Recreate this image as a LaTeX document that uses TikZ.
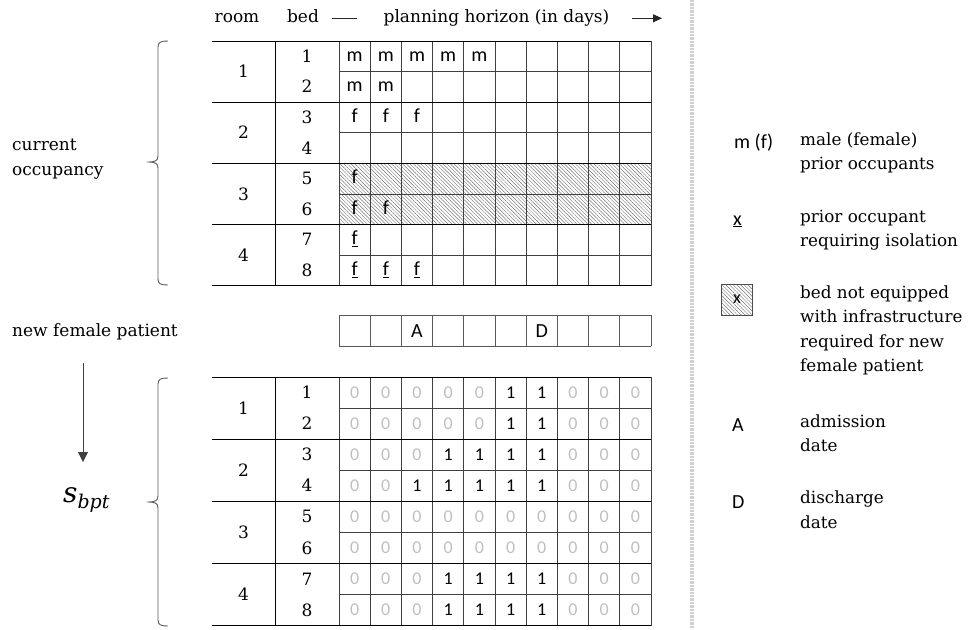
\documentclass[tikz,border=0pt]{standalone}
\usepackage{fontspec}
\setmainfont{DejaVu Serif}
\newfontfamily\cellfont{Carlito}
\usetikzlibrary{arrows.meta,patterns.meta}
\begin{document}
\begin{tikzpicture}[x=1pt,y=-1pt,
  serif/.style={font=\fontsize{17}{25}\selectfont, inner sep=0pt},
  legend/.style={font=\fontsize{16.8}{24.5}\selectfont, inner sep=0pt, anchor=west, align=left},
  sans/.style={font=\cellfont\fontsize{20}{24}\selectfont, inner sep=0pt, anchor=base},
  digit/.style={font=\cellfont\fontsize{18}{22}\selectfont, inner sep=0pt, anchor=base},
  v0/.style={text=black!25},
  v1/.style={text=black},
  dayline/.style={draw=black!75, line width=0.8pt},
  roomline/.style={draw=black, line width=0.9pt},
  brace/.style={draw=black!65, line width=0.9pt},
  hatch/.style={pattern={Lines[angle=-45,distance=2.6pt,line width=0.45pt]}, pattern color=black!55},
]
\useasboundingbox (0,0) rectangle (971,629);

% ---------- header ----------
\node[serif,anchor=base] (hroom) at (237,23) {room};
\node[serif,anchor=base] (hbed) at (303,23) {bed};
\node[serif,anchor=base] (hplan) at (496.5,23) {planning horizon (in days)};
\coordinate (dashL) at (332,18.3);
\coordinate (dashR) at (357,18.3);
\coordinate (harrA) at (632,18.3);
\coordinate (harrB) at (662,18.3);
\draw[black!85, line width=0.8pt] (dashL) -- (dashR);
\draw[black!85, line width=0.8pt, -{Triangle[length=9pt,width=8pt]}] (harrA) -- (harrB);

% ---------- top grid (current occupancy) ----------
\fill[hatch] (339,{41+4*30.6}) rectangle (651,{41+6*30.6});
\foreach \i in {0,...,10}
  \draw[dayline] ({339+\i*31.2},41) -- ({339+\i*31.2},{41+8*30.6});
\foreach \j in {1,3,5,7}
  \draw[dayline] (339,{41+\j*30.6}) -- (651,{41+\j*30.6});
\foreach \j in {0,2,4,6,8}
  \draw[roomline] (212,{41+\j*30.6}) -- (651,{41+\j*30.6});
\draw[roomline] (275,41) -- (275,{41+8*30.6});
\draw[roomline, line width=1.6pt] (212,{41+6*30.6}) -- (339,{41+6*30.6});

\foreach \k in {1,...,4}
  \node[serif,anchor=base] (troom\k) at (243.5,{41+(2*\k-1)*30.6+6}) {\k};
\foreach \b in {1,...,8}
  \node[serif,anchor=base] (tbed\b) at (307,{41+(\b-0.5)*30.6+6}) {\b};

\foreach \r/\c/\t in {1/1/m,1/2/m,1/3/m,1/4/m,1/5/m,2/1/m,2/2/m,
                      3/1/f,3/2/f,3/3/f,5/1/f,6/1/f,6/2/f,
                      7/1/{\underline{f}},8/1/{\underline{f}},8/2/{\underline{f}},8/3/{\underline{f}}}
  \node[sans] (t\r-\c) at ({339+(\c-0.5)*31.2},{41+(\r-0.5)*30.6+5}) {\t};

% ---------- new patient row ----------
\foreach \i in {0,...,10}
  \draw[dayline,draw=black!65] ({339+\i*31.2},315) -- ({339+\i*31.2},346);
\draw[dayline,draw=black!65] (339,315) -- (651,315);
\draw[dayline,draw=black!65] (339,346) -- (651,346);
\node[sans] (pA) at ({339+2.5*31.2},337) {A};
\node[sans] (pD) at ({339+6.5*31.2},337) {D};

% ---------- bottom grid (s_bpt) ----------
\foreach \i in {0,...,10}
  \draw[dayline] ({339+\i*31.2},377) -- ({339+\i*31.2},{377+8*31.1});
\foreach \j in {1,3,5,7}
  \draw[dayline] (339,{377+\j*31.1}) -- (651,{377+\j*31.1});
\foreach \j in {0,2,4,6,8}
  \draw[roomline] (212,{377+\j*31.1}) -- (651,{377+\j*31.1});
\draw[roomline] (275,377) -- (275,{377+8*31.1});

\foreach \k in {1,...,4}
  \node[serif,anchor=base] (broom\k) at (243.5,{377+(2*\k-1)*31.1+6}) {\k};
\foreach \b in {1,...,8}
  \node[serif,anchor=base] (bbed\b) at (307,{377+(\b-0.5)*31.1+6}) {\b};

\foreach \r/\vals in {1/{0,0,0,0,0,1,1,0,0,0},2/{0,0,0,0,0,1,1,0,0,0},
                      3/{0,0,0,1,1,1,1,0,0,0},4/{0,0,1,1,1,1,1,0,0,0},
                      5/{0,0,0,0,0,0,0,0,0,0},6/{0,0,0,0,0,0,0,0,0,0},
                      7/{0,0,0,1,1,1,1,0,0,0},8/{0,0,0,1,1,1,1,0,0,0}}{
  \foreach \v [count=\c] in \vals {
    \node[digit, v\v] (b\r-\c) at ({339+(\c-0.5)*31.2},{377+(\r-0.5)*31.1+5.7}) {\v};
  }
}

% ---------- left labels ----------
\node[serif, anchor=west, align=left] (curocc) at (12,159) {current\\occupancy};
\node[serif, anchor=west] (newpat) at (12,332) {new female patient};
\coordinate (arrA) at (83,363);
\coordinate (arrB) at (83,462);
\draw[black!75, line width=0.9pt, -{Triangle[length=10pt,width=10pt]}] (arrA) -- (arrB);
\node[inner sep=0pt, anchor=base west] (sbpt) at (63,502)
  {\fontsize{28}{30}\selectfont\itshape s\raisebox{-6pt}{\fontsize{19}{20}\selectfont\itshape bpt}};

% braces
\draw[brace] (168,41) .. controls (161,41) and (158,42) .. (158,47) -- (158,156)
  .. controls (158,161) and (155,162) .. (147,162)
  .. controls (155,162) and (158,163) .. (158,168) -- (158,279)
  .. controls (158,284) and (161,285) .. (168,285);
\draw[brace] (168,378) .. controls (161,378) and (158,379) .. (158,384) -- (158,496)
  .. controls (158,501) and (155,502) .. (147,502)
  .. controls (155,502) and (158,503) .. (158,508) -- (158,620)
  .. controls (158,625) and (161,626) .. (168,626);

% ---------- separator ----------
\coordinate (sepT) at (692,0);
\coordinate (sepB) at (692,629);
\draw[black!18, line width=3.4pt, dash pattern=on 2.4pt off 1pt] (sepT) -- (sepB);

% ---------- legend ----------
\node[sans,anchor=base west] (sm) at (734,148) {m (f)};
\node[sans,anchor=base west] (sx) at (733,225) {\underline{x}};
\node[draw=black!70, line width=0.8pt, minimum size=31pt, inner sep=0pt, hatch,
      font=\cellfont\fontsize{18}{20}\selectfont] (sbox) at (737,299.5) {x};
\node[sans,anchor=base west] (sA) at (732,431) {A};
\node[sans,anchor=base west] (sD) at (732,508) {D};

\node[legend] (l1) at (800,153) {male (female)\\prior occupants};
\node[legend] (l2) at (800,230) {prior occupant\\requiring isolation};
\node[legend] (l3) at (800,330.5) {bed not equipped\\with infrastructure\\required for new\\female patient};
\node[legend] (l4) at (800,433) {admission\\date};
\node[legend] (l5) at (800,509.5) {discharge\\date};
\end{tikzpicture}
\end{document}
